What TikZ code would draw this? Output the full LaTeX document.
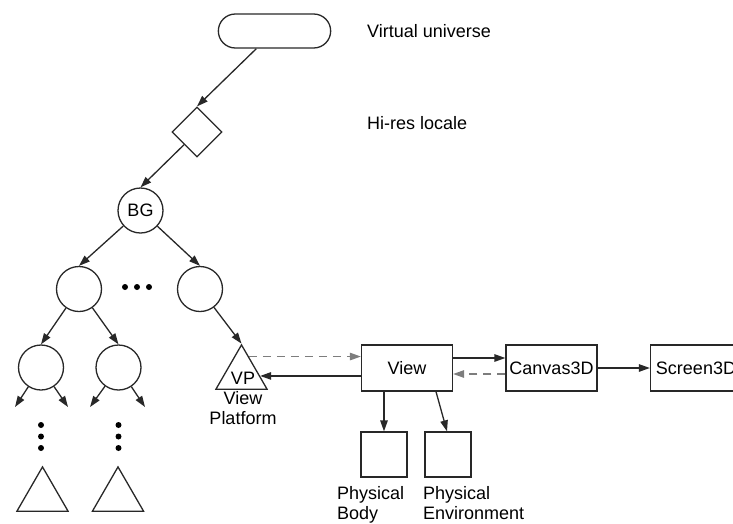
\documentclass[tikz,border=0pt]{standalone}
\usepackage{fontspec}
\setmainfont{Liberation Sans}
\usepackage{xcolor}
\usepackage{tikz}
\usetikzlibrary{shapes.geometric, shapes.misc, arrows.meta, calc}
\definecolor{linecolor}{RGB}{40,40,40}
\definecolor{dashcolor}{RGB}{125,125,125}

\begin{document}
\begin{tikzpicture}[
    x=1pt, y=-1pt,
    font=\fontsize{18}{20}\selectfont,
    universe/.style={draw, linecolor, line width=1.3pt, rounded rectangle, minimum width=119pt, minimum height=34pt},
    locale/.style={draw, linecolor, line width=1.3pt, diamond, minimum size=50pt, inner sep=0pt},
    group/.style={draw, linecolor, line width=1.3pt, circle, minimum size=45pt, inner sep=0pt, text=black},
    leaf/.style={draw, linecolor, line width=1.3pt, regular polygon, regular polygon sides=3, minimum size=59pt, inner sep=0pt, text=black},
    box/.style={draw, linecolor, line width=1.3pt, minimum width=91pt, minimum height=46pt, inner sep=2pt, text=black},
    phys/.style={draw, linecolor, line width=1.3pt, minimum width=46pt, minimum height=45pt},
    note/.style={inner sep=0pt, align=left},
    blob/.style={circle, fill=black, inner sep=0pt, minimum size=6pt},
    flow/.style={-{Triangle[length=11pt, width=7.5pt]}, line width=1.3pt, linecolor},
    dflow/.style={flow, dashcolor, dash pattern=on 8pt off 6pt}
]
    \useasboundingbox (0,0) rectangle (733,523);

    % Scene graph top
    \node[universe] (vu) at (274.5,31) {};
    \node[locale] (hires) at (197,132) {};
    \node[group] (bg) at (140.5,210.5) {BG};
    \node[note, anchor=west] (vulabel) at (367,31) {Virtual universe};
    \node[note, anchor=west] (hireslabel) at (367,123) {Hi-res locale};

    % Groups
    \node[group] (ga) at (79,289) {};
    \node[group] (gb) at (200,289) {};
    \node[group] (la) at (41,367.5) {};
    \node[group] (lb) at (118.5,367.5) {};
    \foreach \x [count=\i] in {125,137,149}
        \node[blob] (hdot\i) at (\x,287) {};
    \foreach \x/\n in {41/a,118.5/b}
        \foreach \y [count=\i] in {425,436.5,448}
            \node[blob] (vdot\n\i) at (\x,\y) {};

    % Leaves
    \node[leaf] (ta) at (42.5,496.4) {};
    \node[leaf] (tb) at (118,496.4) {};
    \node[leaf] (vp) at (241.5,374.4) {};
    \node[inner sep=0pt] (vptext) at (243,378) {VP};
    \node[note, align=center, anchor=north] (vplabel) at (243,391) {View\\Platform};

    % View side
    \node[box] (view) at (407,368) {View};
    \node[box] (canvas) at (551.5,368) {Canvas3D};
    \node[box] (screen) at (696,368) {Screen3D};
    \node[phys] (body) at (384,454.5) {};
    \node[phys] (env) at (448,454.5) {};
    \node[note, anchor=north west] (bodylabel) at (337,486) {Physical\\Body};
    \node[note, anchor=north west] (envlabel) at (423,486) {Physical\\Environment};

    % Loose ends under the lower groups
    \coordinate (la1) at (15,407);
    \coordinate (la2) at (68,407);
    \coordinate (lb1) at (90,407);
    \coordinate (lb2) at (145,407);
    \coordinate (vpr) at ($(vp.corner 1)!0.28!(vp.corner 3)$);
    \coordinate (vpl) at ($(vp.corner 1)!0.7!(vp.corner 3)$);

    % Tree links
    \draw[flow] (vu) -- (hires.north);
    \draw[flow] (hires) -- (bg.north);
    \draw[flow] (bg) -- (ga.north);
    \draw[flow] (bg) -- (gb.north);
    \draw[flow] (ga) -- (la.north);
    \draw[flow] (ga) -- (lb.north);
    \draw[flow] (gb) -- (vp.corner 1);
    \draw[flow] (la) -- (la1);
    \draw[flow] (la) -- (la2);
    \draw[flow] (lb) -- (lb1);
    \draw[flow] (lb) -- (lb2);

    % View links
    \draw[dflow] (vpr) -- (vpr -| view.west);
    \draw[flow] (vpl -| view.west) -- (vpl);
    \draw[flow] ([yshift=10pt]view.east) -- ([yshift=10pt]canvas.west);
    \draw[dflow] ([yshift=-6pt]canvas.west) -- ([yshift=-6pt]view.east);
    \draw[flow] (canvas) -- (screen);
    \draw[flow] (view.south -| body) -- (body);
    \draw[flow] ([xshift=29pt]view.south) -- ([xshift=-1pt]env.north);

\end{tikzpicture}
\end{document}
